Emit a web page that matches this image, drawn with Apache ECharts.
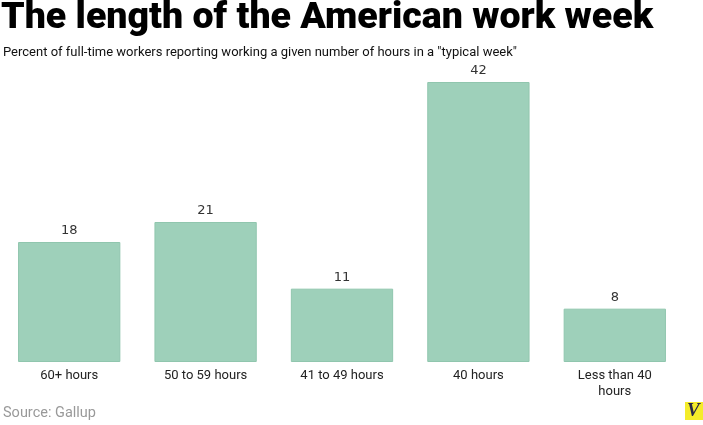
<!DOCTYPE html>
<html><head><meta charset="utf-8">
<script src="https://cdn.jsdelivr.net/npm/echarts@6/dist/echarts.min.js"></script>
<style>html,body{margin:0;padding:0;background:#fff}#c{width:703px;height:425px}</style>
</head><body><div id="c"></div>
<script>
const categories = ["60+ hours", "50 to 59 hours", "41 to 49 hours", "40 hours", "Less than 40\nhours"];
const values = [18, 21, 11, 42, 8];
const titleText = "The length of the American work week";
const subtitleText = 'Percent of full-time workers reporting working a given number of hours in a "typical week"';
const sourceText = "Source: Gallup";

const F = '"Roboto", sans-serif';
const chart = echarts.init(document.getElementById('c'), null, {renderer: 'canvas'});
chart.setOption({
  backgroundColor: '#fff',
  animation: false,
  title: [
    {text: titleText, left: 1, top: 0, padding: 0, textStyle: {fontFamily: F, fontWeight: 900, fontSize: 37.5, color: '#000'}},
    {text: subtitleText, left: 3, top: 46, padding: 0, textStyle: {fontFamily: F, fontWeight: 'normal', fontSize: 13, color: '#111'}},
    {text: sourceText, left: 3, top: 406, padding: 0, textStyle: {fontFamily: F, fontWeight: 'normal', fontSize: 14.5, color: '#999'}}
  ],
  grid: {left: 1, right: 20, top: 62, bottom: 63, containLabel: false},
  xAxis: {
    type: 'category', data: categories,
    axisLine: {show: false}, axisTick: {show: false},
    axisLabel: {interval: 0, margin: 6, fontFamily: F, fontSize: 13, color: '#222', lineHeight: 16}
  },
  yAxis: {type: 'value', min: 0, max: 45, show: false, splitLine: {show: false}},
  series: [{
    type: 'bar', data: values, barCategoryGap: '25%',
    itemStyle: {color: '#9ed0ba', borderColor: '#90c6ae', borderWidth: 1},
    label: {show: true, position: 'top', distance: 5, fontFamily: '"DejaVu Sans", Verdana, sans-serif', fontSize: 13, color: '#333'}
  }],
  graphic: [
    {type: 'rect', shape: {x: 685, y: 402, width: 18, height: 18}, style: {fill: '#f4ec2a'}},
    {type: 'text', x: 687, y: 402, style: {text: 'V', font: 'italic bold 19px "Liberation Serif", serif', fill: '#2a2a48'}}
  ]
});
</script></body></html>
